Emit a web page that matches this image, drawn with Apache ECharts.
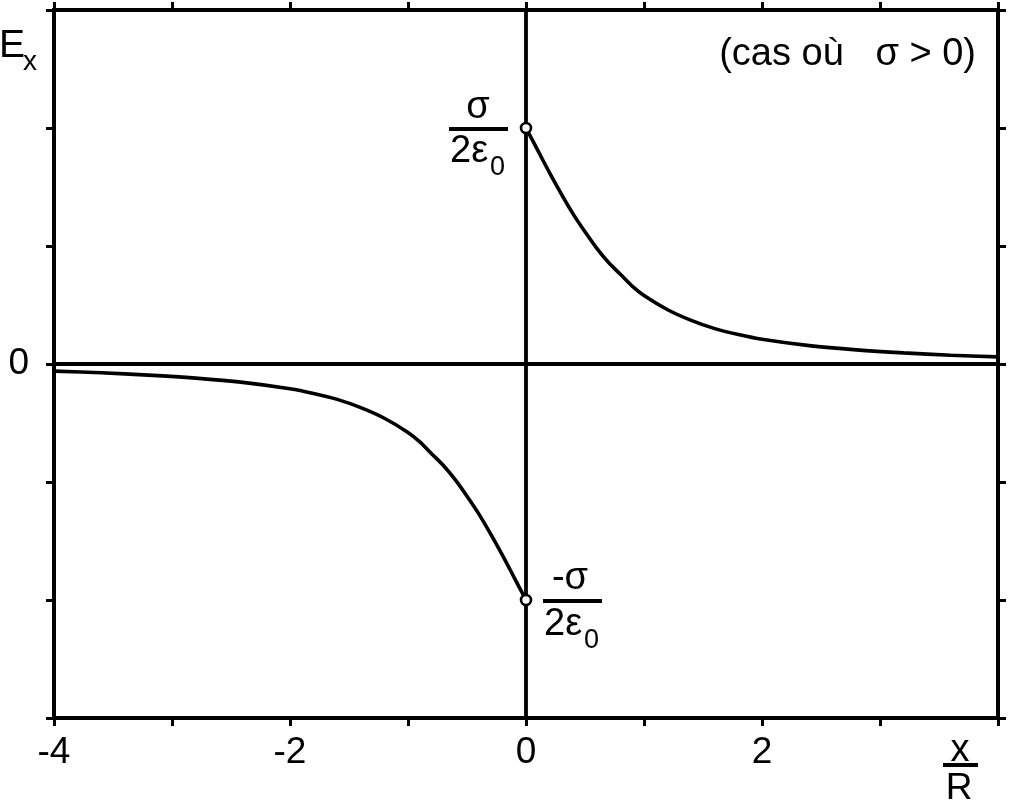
<!DOCTYPE html>
<html>
<head>
<meta charset="utf-8">
<script src="https://cdn.jsdelivr.net/npm/echarts@6/dist/echarts.min.js"></script>
<style>
html,body{margin:0;padding:0;background:#fff;}
#chart{width:1011px;height:805px;}
</style>
</head>
<body>
<div id="chart"></div>
<script>
// ---- data ----
const xPos = [0, 0.1, 0.2, 0.3, 0.4, 0.5, 0.6, 0.7, 0.8, 0.9, 1.0, 1.2, 1.4, 1.6, 1.8, 2.0, 2.4, 2.8, 3.2, 3.6, 4.0];
const ePos = [1.0, 0.905, 0.81, 0.72, 0.635, 0.56, 0.49, 0.43, 0.38, 0.33, 0.29, 0.23, 0.185, 0.15, 0.125, 0.105, 0.078, 0.06, 0.047, 0.037, 0.03];
const xNeg = [-4.0, -3.6, -3.2, -2.8, -2.4, -2.0, -1.8, -1.6, -1.4, -1.2, -1.0, -0.9, -0.8, -0.7, -0.6, -0.5, -0.4, -0.3, -0.2, -0.1, 0];
const eNeg = [-0.03, -0.037, -0.047, -0.06, -0.078, -0.105, -0.125, -0.15, -0.185, -0.23, -0.29, -0.33, -0.38, -0.43, -0.49, -0.56, -0.635, -0.72, -0.81, -0.905, -1.0];
const endPoints = [[0, 1], [0, -1]];
const xTickLabels = ['-4', '-2', '0', '2'];
const yTickLabels = ['0'];
const xRange = [-4, 4];
const yRange = [-1.5, 1.5];

const FONT = '"Liberation Sans", Arial, Helvetica, sans-serif';
const chart = echarts.init(document.getElementById('chart'), null, {renderer: 'canvas'});

function fmtLabel(list) {
  return function (v) {
    const s = String(Math.round(v * 100) / 100);
    return list.indexOf(s) >= 0 ? s : '';
  };
}
const axisLineStyle = {color: '#000', width: 4, cap: 'square'};
const tickStyle = {color: '#000', width: 3};

const option = {
  backgroundColor: '#fff',
  animation: false,
  grid: {left: 54, right: 13, top: 10, bottom: 87, containLabel: false},
  xAxis: [{
    type: 'value', min: xRange[0], max: xRange[1], interval: 1,
    axisLine: {onZero: false, lineStyle: axisLineStyle},
    axisTick: {show: true, inside: false, length: 8, lineStyle: tickStyle},
    axisLabel: {formatter: fmtLabel(xTickLabels), color: '#000', fontSize: 37, fontFamily: FONT, margin: 16, showMinLabel: true, showMaxLabel: true},
    splitLine: {show: false}
  }, {
    type: 'value', position: 'top', min: xRange[0], max: xRange[1], interval: 1,
    axisLine: {onZero: false, lineStyle: axisLineStyle},
    axisTick: {show: true, inside: false, length: 8, lineStyle: tickStyle},
    axisLabel: {show: false},
    splitLine: {show: false}
  }],
  yAxis: [{
    type: 'value', min: yRange[0], max: yRange[1], interval: 0.5,
    axisLine: {onZero: false, lineStyle: axisLineStyle},
    axisTick: {show: true, inside: false, length: 8, lineStyle: tickStyle},
    axisLabel: {formatter: fmtLabel(yTickLabels), color: '#000', fontSize: 37, fontFamily: FONT, margin: 25},
    splitLine: {show: false}
  }, {
    type: 'value', position: 'right', min: yRange[0], max: yRange[1], interval: 0.5,
    axisLine: {onZero: false, lineStyle: axisLineStyle},
    axisTick: {show: true, inside: false, length: 8, lineStyle: tickStyle},
    axisLabel: {show: false},
    splitLine: {show: false}
  }],
  series: [{
    type: 'line', xAxisIndex: 0, yAxisIndex: 0,
    data: xPos.map((x, i) => [x, ePos[i]]),
    smooth: 0.3, showSymbol: false, symbol: 'none',
    lineStyle: {color: '#000', width: 3.6}, z: 3,
    markLine: {
      silent: true, symbol: ['none', 'none'], label: {show: false},
      lineStyle: {color: '#000', width: 3.8, type: 'solid'},
      data: [{xAxis: 0}, {yAxis: 0}]
    }
  }, {
    type: 'line', xAxisIndex: 0, yAxisIndex: 0,
    data: xNeg.map((x, i) => [x, eNeg[i]]),
    smooth: 0.3, showSymbol: false, symbol: 'none',
    lineStyle: {color: '#000', width: 3.6}, z: 3
  }, {
    type: 'scatter', xAxisIndex: 0, yAxisIndex: 0,
    data: endPoints, symbol: 'circle', symbolSize: 10,
    itemStyle: {color: '#fff', borderColor: '#000', borderWidth: 2.6, opacity: 1},
    z: 5
  }]
};
chart.setOption(option);

function txt(x, y, text, size, align, valign) {
  return {type: 'text', x: x, y: y, silent: true,
    style: {text: text, fill: '#000', font: size + 'px ' + FONT, align: align, verticalAlign: valign}};
}
function bar(x, y, w, h) {
  return {type: 'rect', silent: true, shape: {x: x, y: y, width: w, height: h}, style: {fill: '#000'}};
}

const pTop = chart.convertToPixel({xAxisIndex: 0, yAxisIndex: 0}, endPoints[0]);
const pBot = chart.convertToPixel({xAxisIndex: 0, yAxisIndex: 0}, endPoints[1]);
const pBR = chart.convertToPixel({xAxisIndex: 0, yAxisIndex: 0}, [xRange[1], yRange[0]]);
const pTL = chart.convertToPixel({xAxisIndex: 0, yAxisIndex: 0}, [xRange[0], yRange[1]]);
const pTR = chart.convertToPixel({xAxisIndex: 0, yAxisIndex: 0}, [xRange[1], yRange[1]]);

chart.setOption({
  graphic: [
    {type: 'group', x: pTop[0], y: pTop[1], children: [
      txt(-48, -1, 'σ', 38, 'center', 'bottom'),
      bar(-77, -1, 59, 4),
      txt(-76, 5, '2ε', 38, 'left', 'top'),
      txt(-36, 26, '0', 27, 'left', 'top')
    ]},
    {type: 'group', x: pBot[0], y: pBot[1], children: [
      txt(44, -2, '-σ', 38, 'center', 'bottom'),
      bar(17, -1, 59, 4),
      txt(18, 6, '2ε', 38, 'left', 'top'),
      txt(58, 27, '0', 27, 'left', 'top')
    ]},
    {type: 'group', x: pBR[0], y: pBR[1], children: [
      txt(-38, 14, 'x', 38, 'center', 'top'),
      bar(-55, 45, 35, 4),
      txt(-39, 52, 'R', 37, 'center', 'top')
    ]},
    {type: 'group', x: pTL[0], y: pTL[1], children: [
      txt(-55, 17, 'E', 39, 'left', 'top'),
      txt(-31, 38, 'x', 28, 'left', 'top')
    ]},
    {type: 'group', x: pTR[0], y: pTR[1], children: [
      txt(-22, 45, '(cas où   σ > 0)', 38, 'right', 'middle')
    ]}
  ]
});
</script>
</body>
</html>
